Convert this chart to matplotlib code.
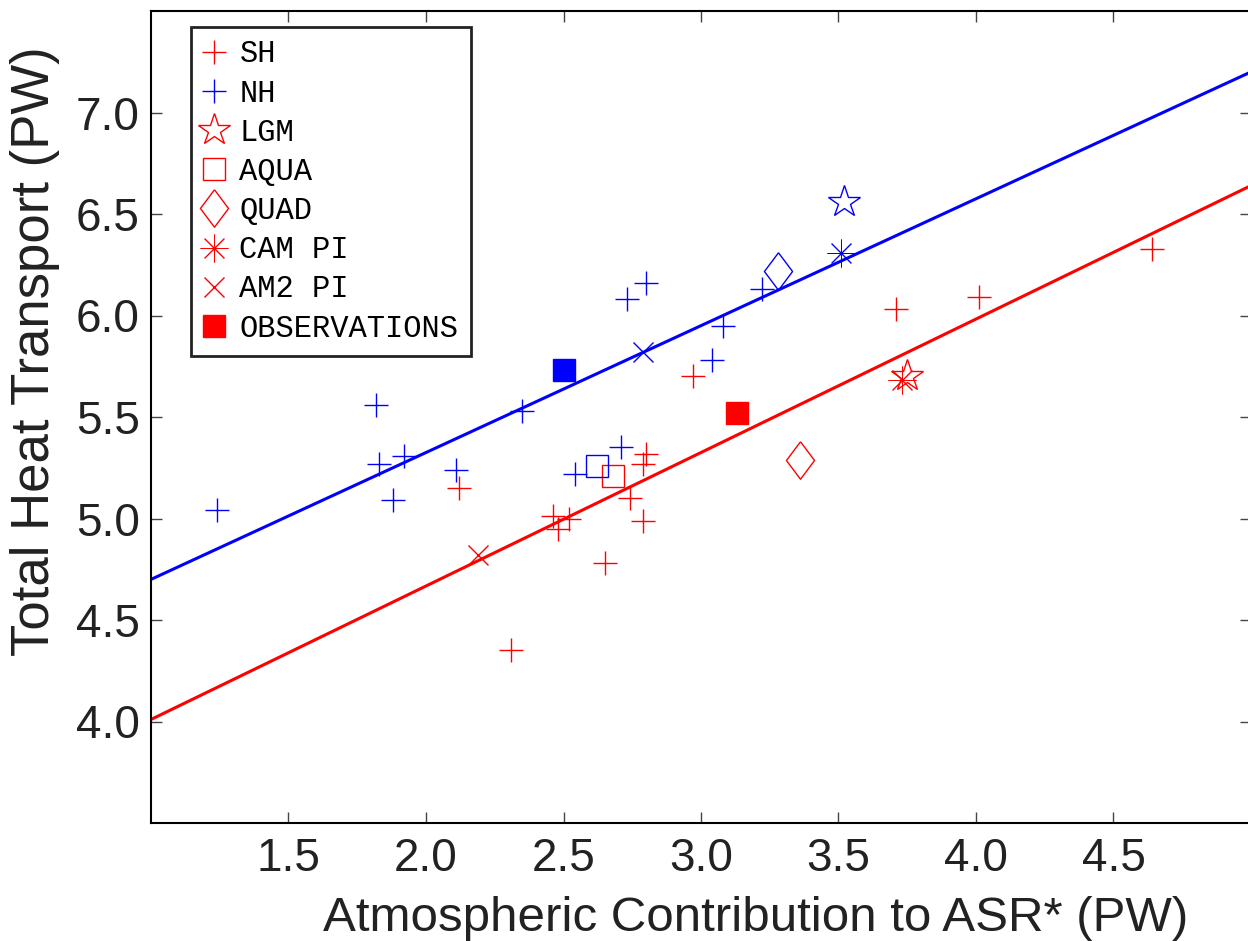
import matplotlib
matplotlib.use("Agg")
import matplotlib.pyplot as plt

# SH / NH control runs (+ markers)
sh_x = [2.12, 2.31, 2.46, 2.48, 2.52, 2.65, 2.74, 2.79, 2.80, 2.79, 2.97, 3.71, 4.01, 4.64]
sh_y = [5.15, 4.35, 5.01, 4.95, 5.00, 4.78, 5.10, 4.99, 5.32, 5.27, 5.70, 6.03, 6.09, 6.33]
nh_x = [1.24, 1.82, 1.83, 1.92, 1.88, 2.11, 2.35, 2.54, 2.71, 2.73, 2.80, 3.04, 3.08, 3.22]
nh_y = [5.04, 5.56, 5.27, 5.31, 5.09, 5.24, 5.53, 5.22, 5.35, 6.08, 6.16, 5.78, 5.95, 6.13]

# special experiments, first value SH, second NH
lgm_x = [3.75, 3.52]
lgm_y = [5.70, 6.56]
aqua_x = [2.68, 2.62]
aqua_y = [5.21, 5.26]
quad_x = [3.36, 3.28]
quad_y = [5.29, 6.22]
cam_x = [3.73, 3.51]
cam_y = [5.68, 6.31]
am2_x = [2.19, 2.79]
am2_y = [4.82, 5.82]
obs_x = [3.13, 2.50]
obs_y = [5.52, 5.73]

# regression lines
fit_x = [1.0, 5.0]
sh_fit = [4.01, 6.64]
nh_fit = [4.70, 7.20]

fig = plt.figure(figsize=(12.48, 9.41), dpi=100)
ax = fig.add_axes([151/1248, 1 - 823/941, 1100/1248, 812/941])

diamond = [(0, 1), (0.75, 0), (0, -1), (-0.75, 0), (0, 1)]

# first pass red (SH, labelled), second blue (NH)
for i, (c, lab) in enumerate([('red', True), ('blue', False)]):
    def L(s):
        return s if lab else None
    ax.plot(lgm_x[i], lgm_y[i], marker='*', ms=24, mfc='none', mec=c, mew=1.0, ls='none', label=L('LGM'))
    ax.plot(aqua_x[i], aqua_y[i], marker='s', ms=16, mfc='none', mec=c, mew=1.0, ls='none', label=L('AQUA'))
    ax.plot(quad_x[i], quad_y[i], marker=diamond, ms=27, mfc='none', mec=c, mew=1.0, ls='none', label=L('QUAD'))
    ax.plot(cam_x[i], cam_y[i], marker=(8, 2, 0), ms=20, mec=c, mew=0.7, ls='none', label=L('CAM PI'))
    ax.plot(am2_x[i], am2_y[i], marker='x', ms=14, mec=c, mew=1.0, ls='none', label=L('AM2 PI'))
    ax.plot(obs_x[i], obs_y[i], marker='s', ms=16, mfc=c, mec=c, ls='none', label=L('OBSERVATIONS'))

ax.plot(sh_x, sh_y, '+', color='red', ms=17, mew=1.0, label='SH')
ax.plot(nh_x, nh_y, '+', color='blue', ms=17, mew=1.0, label='NH')

ax.plot(fit_x, nh_fit, color='blue', lw=2.2)
ax.plot(fit_x, sh_fit, color='red', lw=2.2)

ax.set_xlim(1.0, 5.0)
ax.set_ylim(3.5, 7.5)
ax.set_xticks([1.5, 2.0, 2.5, 3.0, 3.5, 4.0, 4.5])
ax.set_yticks([4.0, 4.5, 5.0, 5.5, 6.0, 6.5, 7.0])
ax.set_xticklabels(['1.5', '2.0', '2.5', '3.0', '3.5', '4.0', '4.5'], fontsize=33, family='Liberation Sans', color='#222222')
ax.set_yticklabels(['4.0', '4.5', '5.0', '5.5', '6.0', '6.5', '7.0'], fontsize=33, family='Liberation Sans', color='#222222')
ax.tick_params(direction='in', length=8, width=1, top=True, right=True, color='#444444')
ax.tick_params(axis='x', pad=10)
ax.tick_params(axis='y', pad=8)
for s in ax.spines.values():
    s.set_linewidth(1.5)

ax.set_xlabel('Atmospheric Contribution to ASR* (PW)', fontsize=35.5, family='Liberation Sans', color='#222222')
ax.set_ylabel('Total Heat Transport (PW)', fontsize=38, family='Liberation Sans', color='#222222')
ax.xaxis.set_label_coords(0.55, -0.09)
ax.yaxis.set_label_coords(-0.083, 0.581)

# legend order as in original
h, l = ax.get_legend_handles_labels()
order = ['SH', 'NH', 'LGM', 'AQUA', 'QUAD', 'CAM PI', 'AM2 PI', 'OBSERVATIONS']
hd = dict(zip(l, h))
leg = ax.legend([hd[k] for k in order], order, loc='upper left', bbox_to_anchor=(0.036, 0.98),
                prop={'family': 'Liberation Mono', 'size': 22}, numpoints=1, fancybox=False,
                edgecolor='#222222', framealpha=1, borderpad=0.4, labelspacing=0.3,
                handlelength=0.7, handletextpad=0.5, borderaxespad=0)
leg.get_frame().set_linewidth(2.0)

fig.savefig('out.png', dpi=100)
